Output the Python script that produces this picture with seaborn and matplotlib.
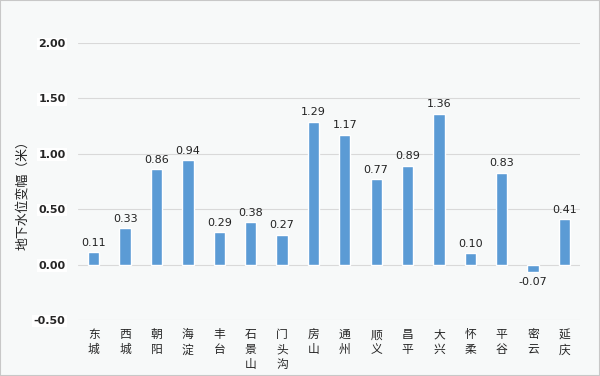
import matplotlib
matplotlib.use("Agg")
import matplotlib.pyplot as plt
import seaborn as sns
import pandas as pd

sns.set_theme(style="white")
plt.rcParams['font.family'] = ['Noto Sans CJK SC', 'DejaVu Sans']

districts = ["东城", "西城", "朝阳", "海淀", "丰台", "石景山", "门头沟", "房山",
             "通州", "顺义", "昌平", "大兴", "怀柔", "平谷", "密云", "延庆"]
changes = [0.11, 0.33, 0.86, 0.94, 0.29, 0.38, 0.27, 1.29,
           1.17, 0.77, 0.89, 1.36, 0.10, 0.83, -0.07, 0.41]
y_ticks = [-0.50, 0.00, 0.50, 1.00, 1.50, 2.00]

df = pd.DataFrame({"district": districts, "change": changes})

bg = "#f7f9f9"
fig = plt.figure(figsize=(6, 3.76), dpi=100, facecolor=bg)
ax = fig.add_axes([0.13, 0.149, 0.837, 0.737], facecolor=bg)

sns.barplot(data=df, x="district", y="change", color="#5b9bd5",
            width=0.36, saturation=1, ax=ax)

ax.set_ylim(-0.5, 2.0)
ax.set_yticks(y_ticks)
ax.set_yticklabels([f"{v:.2f}" for v in y_ticks], fontsize=8, fontweight="bold",
                   family=['DejaVu Sans'])
for t in ax.get_yticklabels():
    t.set_bbox(dict(facecolor="white", edgecolor="none", pad=1))
ax.tick_params(axis="y", length=0, pad=9)
ax.yaxis.grid(True, color="#d9d9d9", linewidth=0.8)
ax.set_axisbelow(True)

ax.set_xticks(range(len(districts)))
ax.set_xticklabels(["\n".join(d) for d in districts], fontsize=8.5, linespacing=1.2,
                   va="top")
ax.tick_params(axis="x", length=0, pad=6)
ax.set_xlim(-0.5, len(districts) - 0.5)

for s in ax.spines.values():
    s.set_visible(False)

ax.set_xlabel("")
ax.set_ylabel("")
fig.text(0.038, 0.49, "地下水位变幅（米）", rotation=90, fontsize=9.3,
         ha="center", va="center", color="#222222")

for i, v in enumerate(changes):
    off = 0.04 if v >= 0 else -0.04
    ax.text(i, v + off, f"{v:.2f}", ha="center", va="bottom" if v >= 0 else "top",
            fontsize=8, family=['DejaVu Sans'], color="#222222")

fig.patches.append(plt.Rectangle((0, 0), 1, 1, transform=fig.transFigure,
                                 fill=False, edgecolor="#c8c8c8", linewidth=1.5))

fig.savefig("out.png", dpi=100, facecolor=bg)
